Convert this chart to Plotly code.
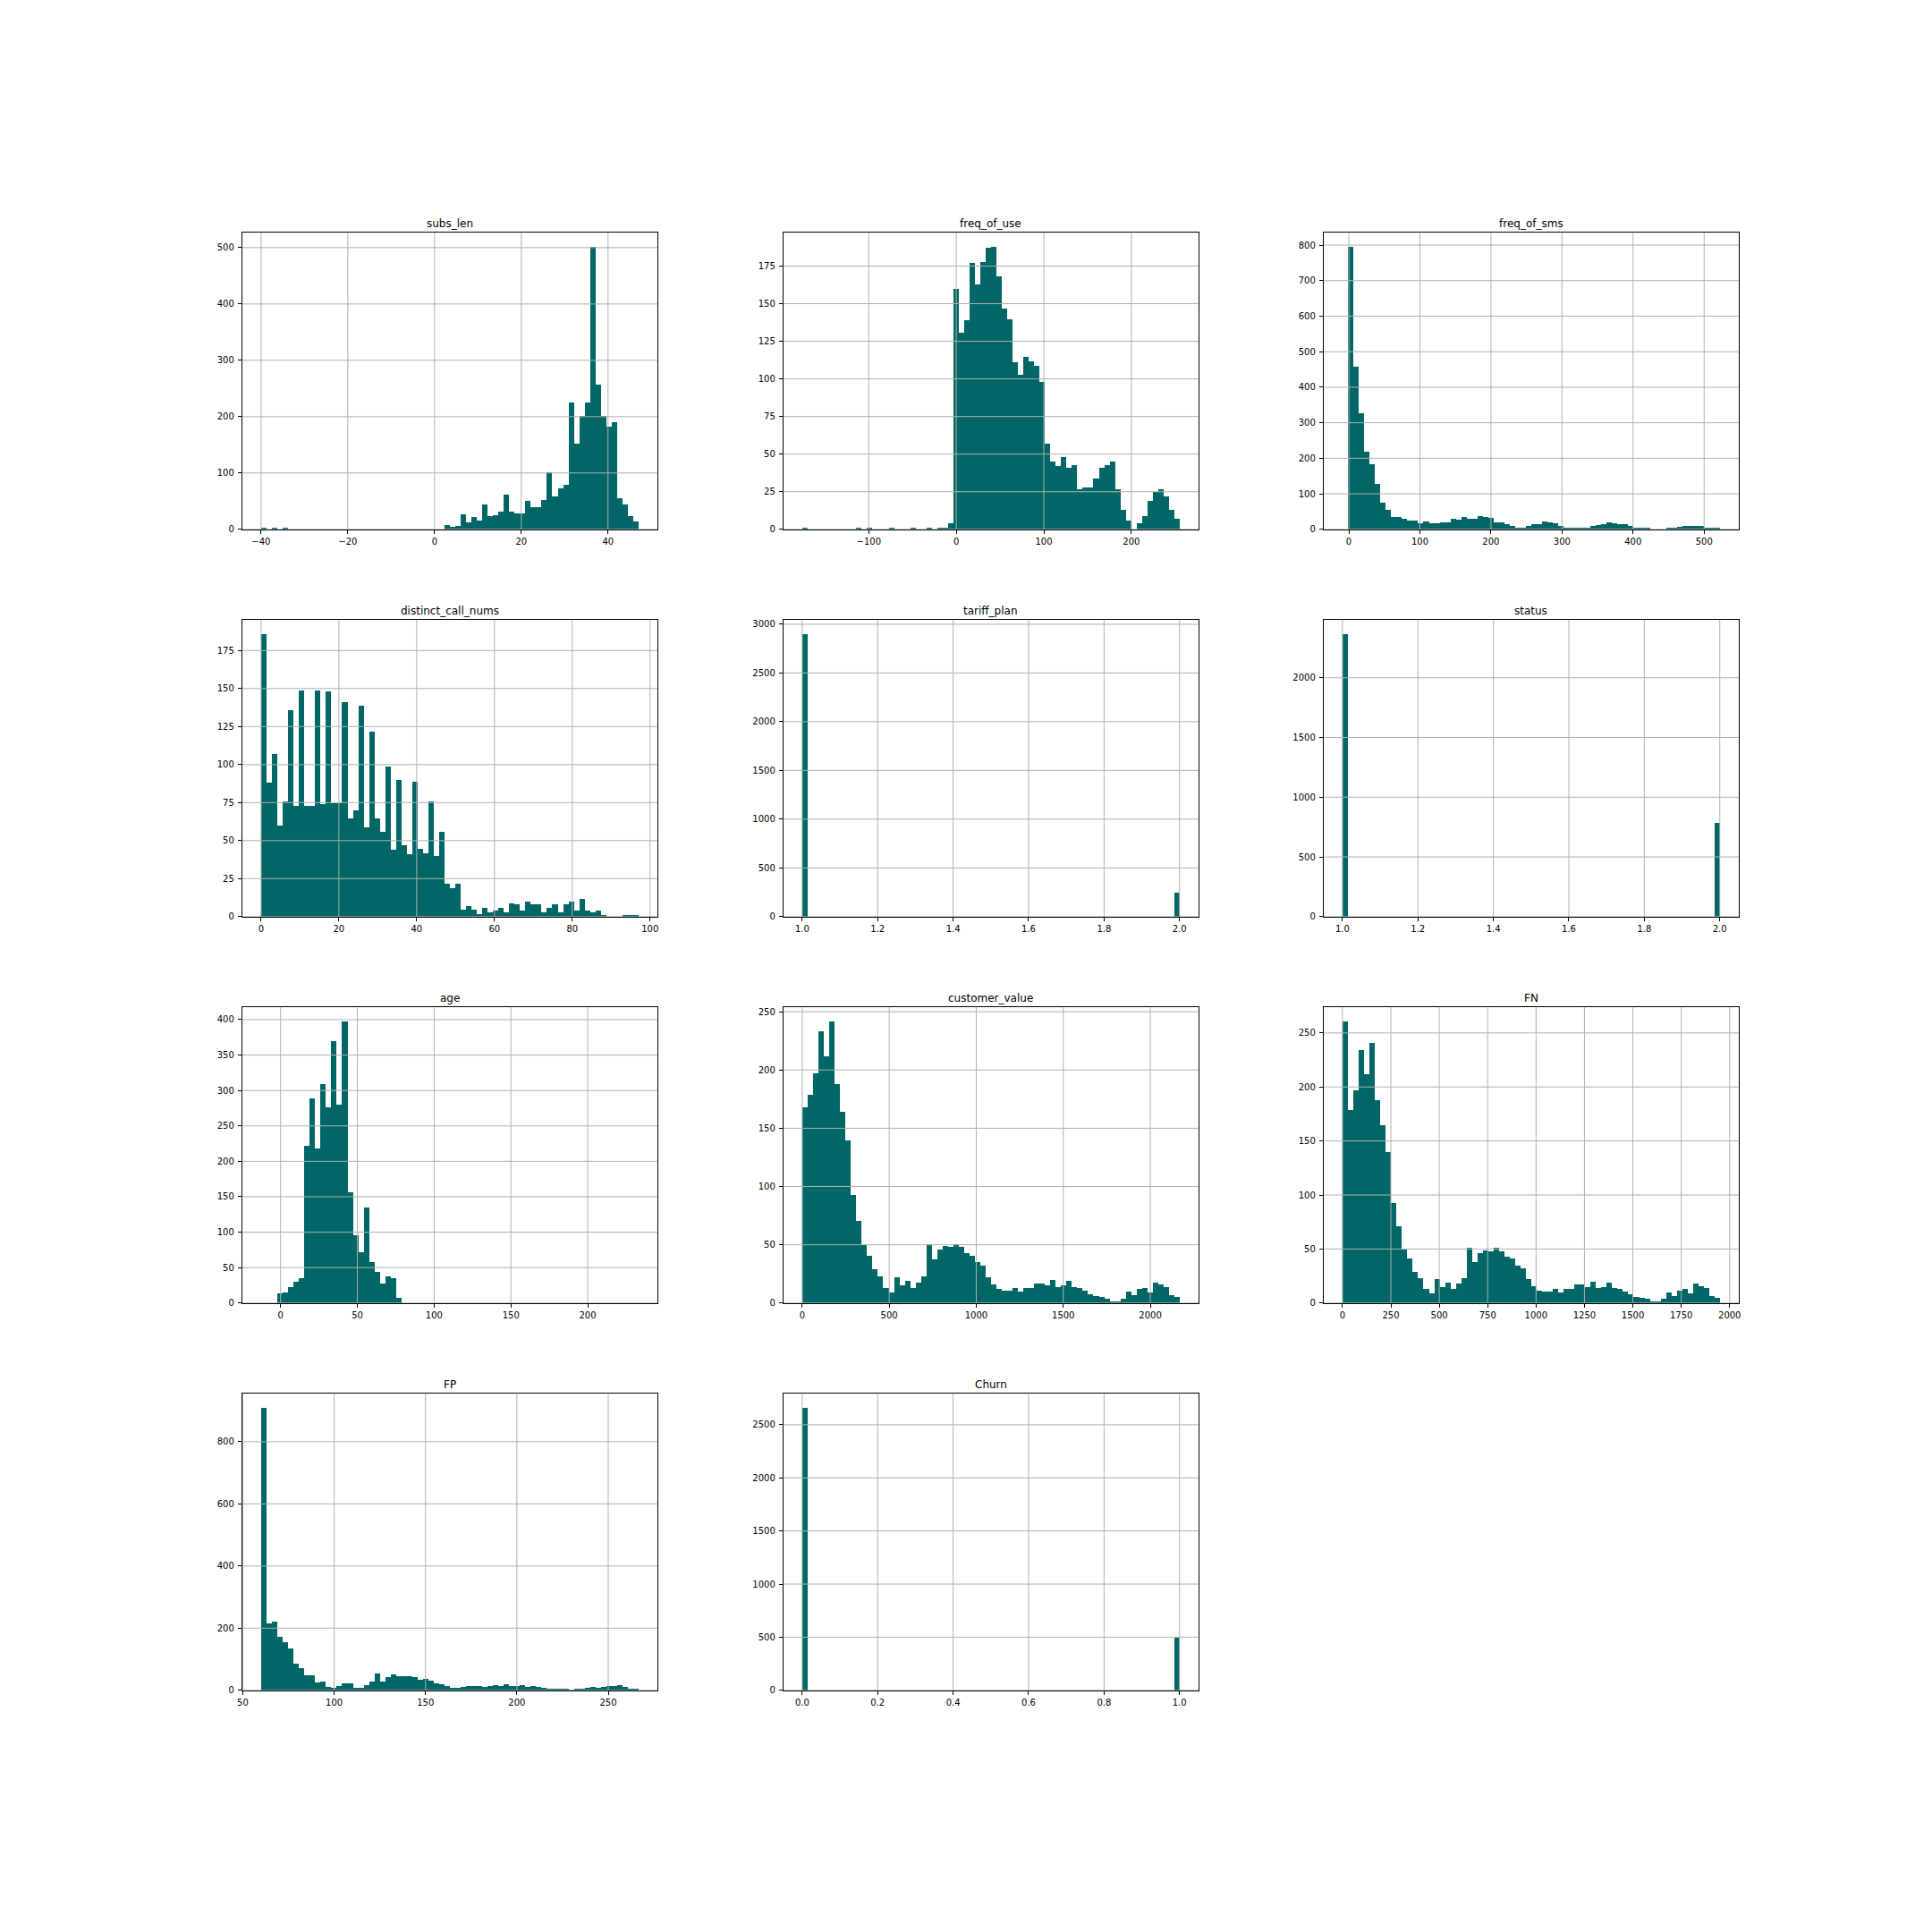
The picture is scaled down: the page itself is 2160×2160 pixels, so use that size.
import numpy as np
import plotly.graph_objects as go

COLOR = "#006666"
GRID = "#b0b0b0"
FONT = "DejaVu Sans"

titles = ["subs_len", "freq_of_use", "freq_of_sms", "distinct_call_nums", "tariff_plan", "status",
          "age", "customer_value", "FN", "FP", "Churn"]

subs_len = [3,0,3,0,3]+[0]*29+[8,5,7,27,13,23,16,45,24,26,32,62,31,29,29,51,40,40,53,102,59,73,80,225,152,201,225,502,257,201,182,190,56,45,24,15]
freq_of_use = [1]+[0]*9+[1,0,1,0,0,0,1,0,0,0,1,0,0,1,0,1,1,4,160,131,139,177,163,178,187,188,168,147,140,111,103,115,112,109,98,57,45,42,48,41,43,27,28,28,34,41,43,45,27,13,6,0,4,9,19,25,27,22,13,7]
freq_of_sms = [0,796,457,327,219,184,129,76,56,36,36,31,26,26,18,23,18,18,21,21,31,28,36,31,31,38,36,33,21,21,16,11,6,6,11,16,16,23,21,18,11,6,6,3,3,6,11,13,16,21,18,16,16,11,6,3,3,0,0,0,3,6,8,11,11,11,11,6,3,3]
distinct_call_nums = [186,88,107,60,76,136,73,149,73,73,149,74,148,75,75,141,65,70,139,59,122,65,56,99,44,90,47,41,89,45,42,76,40,56,22,19,22,5,7,5,2,6,3,4,6,3,9,8,4,10,8,8,3,6,8,3,8,10,4,12,4,3,4,1,0,0,0,1,1,1]
tariff_plan = [2902]+[0]*68+[250]
status = [2368]+[0]*68+[786]
age = [0,0,0,14,15,23,30,35,222,289,219,309,276,370,280,398,156,96,72,135,58,44,28,38,35,7]+[0]*44
customer_value = [168,179,197,233,212,242,188,164,140,93,71,50,41,29,23,13,9,22,15,19,13,18,23,51,38,46,49,48,51,48,43,41,35,32,22,16,12,11,11,13,10,13,13,17,17,15,20,14,15,19,14,13,11,8,6,5,4,1,1,4,10,7,12,13,9,18,16,14,7,5]
FN = [261,179,197,234,212,241,188,165,140,93,71,50,41,29,23,13,9,22,15,19,13,18,23,51,38,46,49,48,51,48,43,41,35,32,22,16,12,11,11,13,10,13,13,17,17,15,20,14,15,19,14,13,11,8,6,5,4,1,1,4,10,7,12,13,9,18,16,14,7,5]
FP = [910,216,222,173,156,136,87,73,50,50,27,30,12,10,15,24,24,10,10,18,30,55,30,44,53,47,47,47,44,35,38,33,24,21,15,10,10,12,15,15,15,12,15,18,15,21,15,15,18,12,15,12,10,7,4,7,4,1,4,4,10,12,10,12,15,15,18,12,7,7]
Churn = [2662]+[0]*68+[498]

series = [subs_len, freq_of_use, freq_of_sms, distinct_call_nums, tariff_plan, status,
          age, customer_value, FN, FP, Churn]

data_min = [-40, -176, -9, 0, 1, 1, -12.7, 0, 0, 60, 0]
data_max = [47, 255, 522, 97, 2, 2, 233, 2168, 1949, 266.5, 1]

x_ticks = [
    [-40, -20, 0, 20, 40],
    [-100, 0, 100, 200],
    [0, 100, 200, 300, 400, 500],
    [0, 20, 40, 60, 80, 100],
    [1.0, 1.2, 1.4, 1.6, 1.8, 2.0],
    [1.0, 1.2, 1.4, 1.6, 1.8, 2.0],
    [0, 50, 100, 150, 200],
    [0, 500, 1000, 1500, 2000],
    [0, 250, 500, 750, 1000, 1250, 1500, 1750, 2000],
    [50, 100, 150, 200, 250],
    [0.0, 0.2, 0.4, 0.6, 0.8, 1.0],
]
y_ticks = [
    [0, 100, 200, 300, 400, 500],
    [0, 25, 50, 75, 100, 125, 150, 175],
    [0, 100, 200, 300, 400, 500, 600, 700, 800],
    [0, 25, 50, 75, 100, 125, 150, 175],
    [0, 500, 1000, 1500, 2000, 2500, 3000],
    [0, 500, 1000, 1500, 2000],
    [0, 50, 100, 150, 200, 250, 300, 350, 400],
    [0, 50, 100, 150, 200, 250],
    [0, 50, 100, 150, 200, 250],
    [0, 200, 400, 600, 800],
    [0, 500, 1000, 1500, 2000, 2500],
]
x_fmt = ["", "", "", "", ".1f", ".1f", "", "", "", "", ".1f"]

S = 2160
col_px = [(270.8, 734.8), (875.8, 1339.8), (1479.8, 1943.8)]
row_px = [(259.8, 591.8), (692.8, 1024.8), (1125.8, 1456.8), (1557.8, 1889.8)]

fig = go.Figure()
shapes = []
annotations = []
layout = {}
for i, title in enumerate(titles):
    r, c = divmod(i, 3)
    n = "" if i == 0 else str(i + 1)
    xname, yname = f"x{n}", f"y{n}"
    vals = series[i]
    edges = np.linspace(data_min[i], data_max[i], len(vals) + 1)
    w = edges[1] - edges[0]
    fig.add_trace(go.Bar(
        x=edges[:-1], y=vals, width=w, offset=0, xaxis=xname, yaxis=yname,
        marker=dict(color=COLOR, line=dict(width=0)), showlegend=False, name=title,
    ))
    span = data_max[i] - data_min[i]
    xr = [data_min[i] - span * 0.05, data_max[i] + span * 0.05]
    yr = [0, max(vals) * 1.05]
    common = dict(
        showline=True, linecolor="#000000", linewidth=1, mirror=True, automargin=False,
        ticks="outside", ticklen=4, tickwidth=1, tickcolor="#000000",
        showgrid=False, zeroline=False, tickmode="array",
        tickfont=dict(family=FONT, size=10, color="#000000"),
    )
    layout[f"xaxis{n}"] = dict(
        domain=[col_px[c][0] / S, col_px[c][1] / S], range=xr, anchor=yname,
        tickvals=x_ticks[i], tickformat=x_fmt[i], **common)
    layout[f"yaxis{n}"] = dict(
        domain=[1 - row_px[r][1] / S, 1 - row_px[r][0] / S], range=yr, anchor=xname,
        tickvals=y_ticks[i], ticklabelstandoff=2, **common)
    grid = dict(type="line", layer="above", line=dict(color=GRID, width=1))
    for t in x_ticks[i]:
        shapes.append(dict(xref=xname, yref=f"{yname} domain", x0=t, x1=t, y0=0, y1=1, **grid))
    for t in y_ticks[i]:
        shapes.append(dict(xref=f"{xname} domain", yref=yname, x0=0, x1=1, y0=t, y1=t, **grid))
    annotations.append(dict(
        text=title, xref=f"{xname} domain", yref=f"{yname} domain", x=0.5, y=1,
        xanchor="center", yanchor="bottom", yshift=1, showarrow=False,
        font=dict(family=FONT, size=12, color="#000000"),
    ))

fig.update_layout(
    width=S, height=S, autosize=False, margin=dict(l=0, r=0, t=0, b=0),
    paper_bgcolor="white", plot_bgcolor="white", bargap=0,
    font=dict(family=FONT, size=10), shapes=shapes, annotations=annotations,
    **layout,
)
fig.write_html("out.html", config=dict(displayModeBar=False),
               post_script="document.body.style.margin='0';document.documentElement.style.overflow='hidden';")
